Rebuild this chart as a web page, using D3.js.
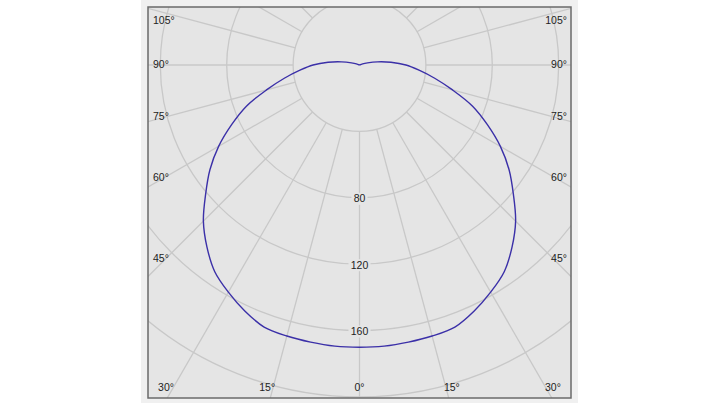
<!DOCTYPE html>
<html>
<head>
<meta charset="utf-8">
<script src="https://cdn.jsdelivr.net/npm/d3@7"></script>
<style>
	html, body { margin: 0; padding: 0; background: #ffffff; }
	text { font-family: "Liberation Sans", Arial, sans-serif; font-size: 10.5px; fill: #222222; }
</style>
</head>
<body>
<div id="chart"></div>
<script>
// luminous intensity, 0 deg = straight down, symmetric on both sides
var angles = [0, 5, 10, 15, 20, 25, 30, 35, 40, 45, 50, 55, 60, 65, 70, 75, 80, 85, 90,
			95, 100, 105, 110, 115, 120, 125, 130, 135, 140, 145, 150, 155, 160, 165, 170, 175, 180];
var intensity = [170, 170, 169.5, 169, 168, 163.5, 158, 152, 143, 133, 121, 110, 98, 85, 72.5, 58, 46, 36, 28,
			19, 11, 5, 2, 0, 0, 0, 0, 0, 0, 0, 0, 0, 0, 0, 0, 0, 0];

var ringValues = [40, 80, 120, 160, 200, 240];
var ringLabels = [80, 120, 160];
var spokeAngles = d3.range(0, 360, 15);
var angleLabels = [0, 15, 30, 45, 60, 75, 90, 105];

function init(){
	var w = 720;
	var h = 405;
	var frame = {x0: 148, y0: 7, x1: 571, y1: 398};
	var cx = (frame.x0 + frame.x1) / 2;
	var cy = 65;

	var rScale = d3.scaleLinear()
					.domain([0, 200])
					.range([0, 332]);

	var svg = d3.select("#chart")
				.append("svg")
				.attr("width", w)
				.attr("height", h);

	//panel and plot area
	svg.append("rect")
		.attr("x", 141).attr("y", 0)
		.attr("width", 437).attr("height", 403)
		.style("fill", "#f0f0f0");

	svg.append("clipPath")
		.attr("id", "plotclip")
		.append("rect")
		.attr("x", frame.x0).attr("y", frame.y0)
		.attr("width", frame.x1 - frame.x0).attr("height", frame.y1 - frame.y0);

	svg.append("rect")
		.attr("x", frame.x0).attr("y", frame.y0)
		.attr("width", frame.x1 - frame.x0).attr("height", frame.y1 - frame.y0)
		.style("fill", "#e5e5e5");

	var plot = svg.append("g")
				.attr("clip-path", "url(#plotclip)")
				.append("g")
				.attr("transform", "translate(" + cx + "," + cy + ")");

	//grid circles
	plot.selectAll("circle.ring")
		.data(ringValues)
		.enter()
		.append("circle")
		.attr("class", "ring")
		.attr("r", function(d){ return rScale(d); })
		.style("fill", "none")
		.style("stroke", "#c8c8c8")
		.style("stroke-width", 1.3);

	//spokes, starting at the first ring
	var rInner = rScale(ringValues[0]);
	var rOuter = 700;
	plot.selectAll("line.spoke")
		.data(spokeAngles)
		.enter()
		.append("line")
		.attr("class", "spoke")
		.attr("x1", function(d){ return rInner * Math.sin(d * Math.PI / 180); })
		.attr("y1", function(d){ return rInner * Math.cos(d * Math.PI / 180); })
		.attr("x2", function(d){ return rOuter * Math.sin(d * Math.PI / 180); })
		.attr("y2", function(d){ return rOuter * Math.cos(d * Math.PI / 180); })
		.style("stroke", "#c8c8c8")
		.style("stroke-width", 1.3);

	//curve: right half from 180 down to 0, then left half back up to 180
	var pts = [];
	for (var i = angles.length - 1; i >= 0; i--) {
		pts.push({a: Math.PI - angles[i] * Math.PI / 180, v: intensity[i]});
	}
	for (var j = 1; j < angles.length; j++) {
		pts.push({a: Math.PI + angles[j] * Math.PI / 180, v: intensity[j]});
	}

	var line = d3.lineRadial()
				.angle(function(d){ return d.a; })
				.radius(function(d){ return rScale(d.v); })
				.curve(d3.curveCatmullRom.alpha(0.5));

	plot.append("path")
		.datum(pts)
		.attr("d", line)
		.style("fill", "none")
		.style("stroke", "#3b30a8")
		.style("stroke-width", 1.4);

	svg.append("rect")
		.attr("x", frame.x0).attr("y", frame.y0)
		.attr("width", frame.x1 - frame.x0).attr("height", frame.y1 - frame.y0)
		.style("fill", "none")
		.style("stroke", "#6a6a6a")
		.style("stroke-width", 1.5);

	//ring value labels down the 0 deg spoke
	var rl = svg.selectAll("g.rlabel")
				.data(ringLabels)
				.enter()
				.append("g")
				.attr("class", "rlabel")
				.attr("transform", function(d){ return "translate(" + cx + "," + (cy + rScale(d) + 1) + ")"; });
	rl.append("rect")
		.attr("x", function(d){ return d < 100 ? -8 : -11; })
		.attr("y", -6)
		.attr("width", function(d){ return d < 100 ? 16 : 22; })
		.attr("height", 12)
		.style("fill", "#e5e5e5");
	rl.append("text")
		.attr("text-anchor", "middle")
		.attr("dy", "0.35em")
		.text(function(d){ return d; });

	//angle labels along the frame
	var insetX = 14;
	var yBottom = frame.y1 - 11;
	var yTop = frame.y0 + 13;
	var labelData = [];
	angleLabels.forEach(function(a){
		var t = (a + 1) * Math.PI / 180;
		var sides = a === 0 ? [0] : [-1, 1];
		sides.forEach(function(s){
			var dyB = yBottom - cy;
			var dxB = dyB * Math.tan(t);
			if (Math.cos(t) > 0 && cx + dxB <= frame.x1 - insetX) {
				labelData.push({a: a, x: cx + s * dxB, y: yBottom, anchor: "middle"});
			} else {
				var dx = (frame.x1 - frame.x0) / 2 - insetX;
				var y = cy + dx / Math.tan(t) + 2.5;
				y = Math.max(yTop, y);
				labelData.push({
					a: a,
					x: s < 0 ? frame.x0 + 5 : frame.x1 - 4,
					y: y,
					anchor: s < 0 ? "start" : "end"
				});
			}
		});
	});

	svg.selectAll("text.alabel")
		.data(labelData)
		.enter()
		.append("text")
		.attr("class", "alabel")
		.attr("x", function(d){ return d.x; })
		.attr("y", function(d){ return d.y; })
		.attr("dy", "0.35em")
		.attr("text-anchor", function(d){ return d.anchor; })
		.text(function(d){ return d.a + "°"; });
}

window.onload = init;
</script>
</body>
</html>
